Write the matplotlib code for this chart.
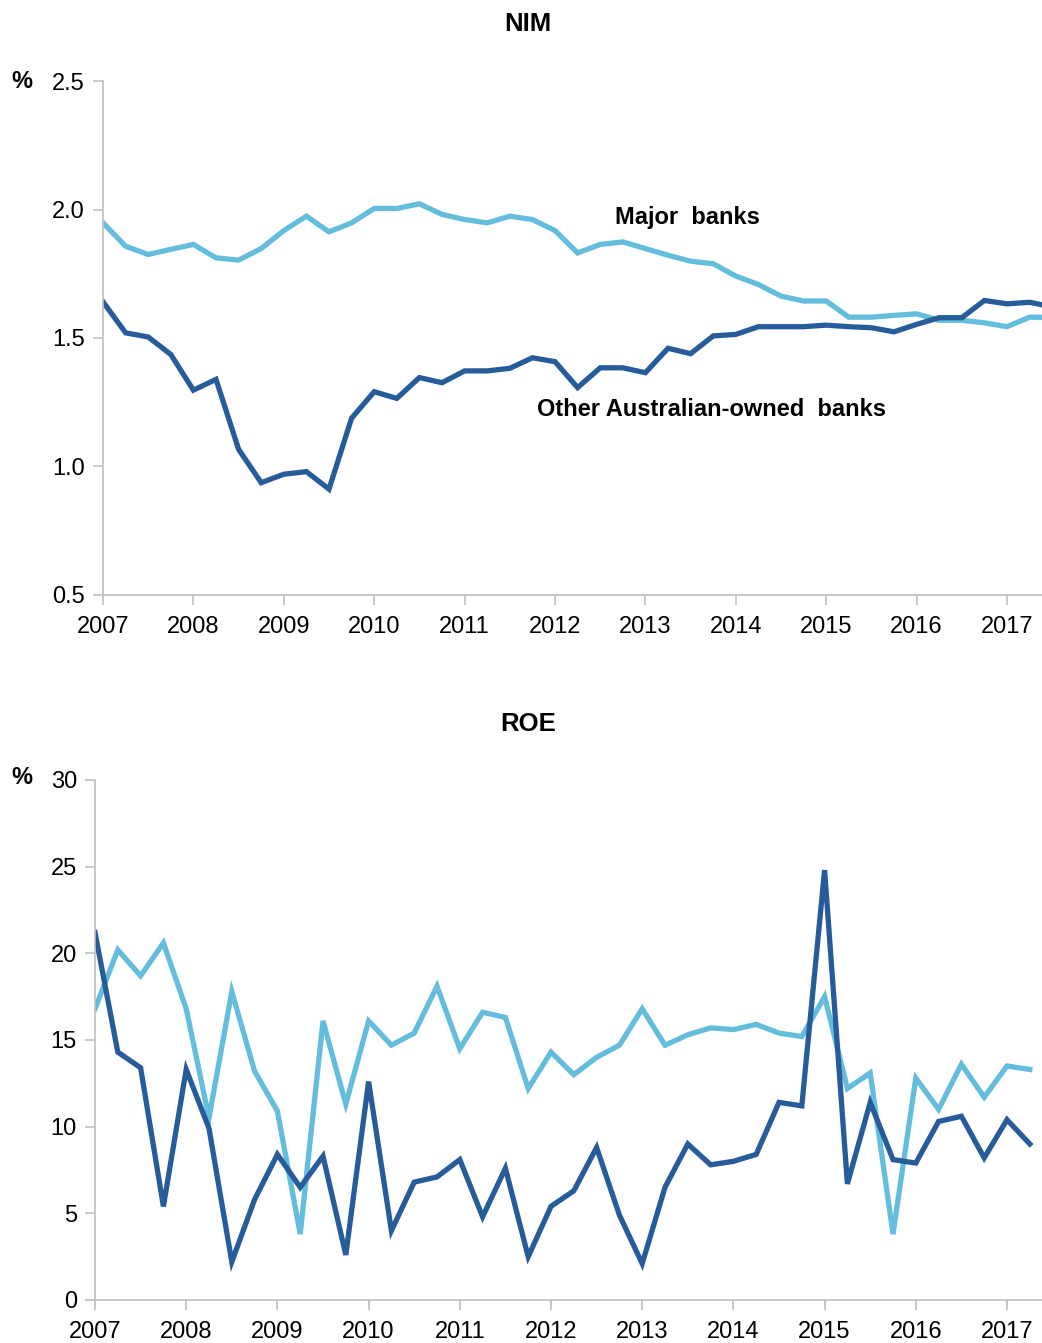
import numpy as np
import matplotlib.pyplot as plt

plt.rcParams['font.family'] = ['Liberation Sans', 'DejaVu Sans']

LIGHT = '#64bddd'
DARK = '#275c9b'
GREY = '#bfbfbf'

# quarterly observations
nimStart = 2007.0
nimMajor = [1.948, 1.857, 1.825, 1.845, 1.864, 1.812, 1.803, 1.848, 1.918, 1.974,
            1.913, 1.948, 2.004, 2.004, 2.022, 1.981, 1.961, 1.948, 1.974, 1.961,
            1.918, 1.831, 1.864, 1.874, 1.848, 1.822, 1.799, 1.789, 1.741, 1.708,
            1.663, 1.644, 1.644, 1.581, 1.581, 1.588, 1.594, 1.569, 1.569, 1.559,
            1.544, 1.581, 1.580]
nimOther = [1.641, 1.520, 1.504, 1.436, 1.297, 1.339, 1.067, 0.937, 0.970, 0.980,
            0.912, 1.188, 1.291, 1.265, 1.346, 1.326, 1.372, 1.372, 1.382, 1.423,
            1.408, 1.307, 1.384, 1.384, 1.365, 1.460, 1.439, 1.508, 1.514, 1.544,
            1.544, 1.544, 1.550, 1.544, 1.540, 1.524, 1.553, 1.579, 1.579, 1.646,
            1.633, 1.639, 1.621]

roeMajor = [16.8, 20.2, 18.7, 20.6, 16.8, 10.5, 17.8, 13.2, 10.9, 3.8,
            16.1, 11.3, 16.1, 14.7, 15.4, 18.1, 14.5, 16.6, 16.3, 12.2,
            14.3, 13.0, 14.0, 14.7, 16.8, 14.7, 15.3, 15.7, 15.6, 15.9,
            15.4, 15.2, 17.5, 12.2, 13.1, 3.8, 12.8, 11.0, 13.6, 11.7,
            13.5, 13.3]
roeOther = [21.2, 14.3, 13.4, 5.4, 13.3, 9.9, 2.2, 5.8, 8.4, 6.5,
            8.3, 2.6, 12.6, 4.0, 6.8, 7.1, 8.1, 4.8, 7.6, 2.5,
            5.4, 6.3, 8.8, 4.9, 2.1, 6.5, 9.0, 7.8, 8.0, 8.4,
            11.4, 11.2, 24.8, 6.7, 11.4, 8.1, 7.9, 10.3, 10.6, 8.2,
            10.4, 9.0]

years = list(range(2007, 2018))
nimTicks = [0.5, 1.0, 1.5, 2.0, 2.5]
roeTicks = [0, 5, 10, 15, 20, 25, 30]


def quarters(vals):
	return nimStart + 0.25 * np.arange(len(vals))


def styleAxis(ax):
	for s in ['top', 'right']:
		ax.spines[s].set_visible(False)
	for s in ['left', 'bottom']:
		ax.spines[s].set_color(GREY)
		ax.spines[s].set_linewidth(1.2)
	ax.tick_params(axis='both', colors=GREY, length=7, width=1.2,
				   labelcolor='black', labelsize=17)
	ax.tick_params(axis='x', pad=8)
	ax.tick_params(axis='y', pad=6)
	ax.set_xticks(years)
	ax.set_xticklabels([str(y) for y in years])


fig = plt.figure(figsize=(10.42, 13.43), dpi=100)

ax1 = fig.add_axes([103 / 1042, 1 - 595 / 1343, 939 / 1042, 514 / 1343])
ax1.plot(quarters(nimMajor), nimMajor, color=LIGHT, lw=3.8, solid_joinstyle='miter')
ax1.plot(quarters(nimOther), nimOther, color=DARK, lw=3.8, solid_joinstyle='miter')
ax1.set_xlim(2007, 2007 + 939 / 90.4)
ax1.set_ylim(0.5, 2.5)
ax1.set_yticks(nimTicks)
ax1.set_yticklabels(['%.1f' % t for t in nimTicks])
styleAxis(ax1)
ax1.text(2013.47, 1.97, 'Major  banks', fontsize=17, fontweight='bold', ha='center', va='center')
ax1.text(2013.73, 1.22, 'Other Australian-owned  banks', fontsize=17, fontweight='bold',
		 ha='center', va='center')

ax2 = fig.add_axes([95 / 1042, 1 - 1300 / 1343, 947 / 1042, 520 / 1343])
ax2.plot(quarters(roeMajor), roeMajor, color=LIGHT, lw=3.8, solid_joinstyle='miter')
ax2.plot(quarters(roeOther), roeOther, color=DARK, lw=3.8, solid_joinstyle='miter')
ax2.set_xlim(2007, 2007 + 947 / 91.2)
ax2.set_ylim(0, 30)
ax2.set_yticks(roeTicks)
ax2.set_yticklabels([str(t) for t in roeTicks])
styleAxis(ax2)

fig.text(528 / 1042, 1 - 24 / 1343, 'NIM', fontsize=18.5, fontweight='bold', ha='center', va='center')
fig.text(528 / 1042, 1 - 724 / 1343, 'ROE', fontsize=18.5, fontweight='bold', ha='center', va='center')
fig.text(22 / 1042, 1 - 81 / 1343, '%', fontsize=17, fontweight='bold', ha='center', va='center')
fig.text(22 / 1042, 1 - 778 / 1343, '%', fontsize=17, fontweight='bold', ha='center', va='center')

fig.savefig('out.png', dpi=100)
